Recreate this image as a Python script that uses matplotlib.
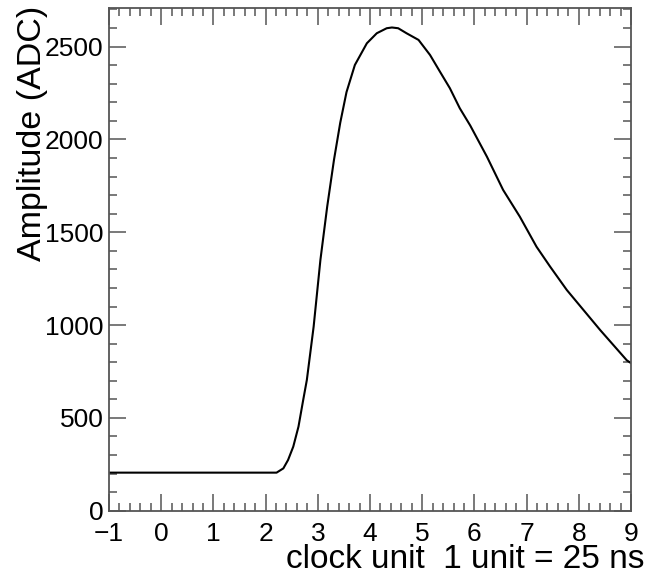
import matplotlib
matplotlib.use("Agg")
import matplotlib.pyplot as plt
from matplotlib.ticker import MultipleLocator

# pulse shape
clock = [-1.0, 2.21, 2.34, 2.43, 2.53, 2.63, 2.72, 2.79, 2.92, 3.05, 3.18, 3.31,
         3.43, 3.55, 3.71, 3.94, 4.13, 4.32, 4.42, 4.54, 4.70, 4.93, 5.15, 5.34,
         5.53, 5.72, 5.92, 6.24, 6.55, 6.87, 7.19, 7.45, 7.77, 8.09, 8.41, 8.92, 9.0]
amplitude = [205, 205, 228, 273, 345, 453, 596, 704, 991, 1351, 1638, 1890,
             2090, 2255, 2401, 2518, 2572, 2599, 2603, 2599, 2572, 2536, 2455, 2365,
             2276, 2168, 2075, 1907, 1728, 1584, 1422, 1315, 1189, 1081, 973, 810, 795]

x_ticks = [-1, 0, 1, 2, 3, 4, 5, 6, 7, 8, 9]
y_ticks = [0, 500, 1000, 1500, 2000, 2500]

plt.rcParams['font.family'] = ['Liberation Sans', 'DejaVu Sans']

fig = plt.figure(figsize=(6.47, 5.74), dpi=100)
ax = fig.add_axes([109 / 647, 1 - 510.7 / 574, 522 / 647, 502.7 / 574])

ax.plot(clock, amplitude, color='black', lw=1.5)

ax.set_xlim(-1, 9)
ax.set_ylim(0, 2708)
ax.set_xticks(x_ticks)
ax.set_yticks(y_ticks)
ax.xaxis.set_minor_locator(MultipleLocator(0.2))
ax.yaxis.set_minor_locator(MultipleLocator(100))

frame_col = '#555555'
for sp in ax.spines.values():
    sp.set_color(frame_col)
    sp.set_linewidth(1.3)

ax.tick_params(which='both', direction='in', top=True, right=True, color=frame_col,
               width=1.1, labelsize=19)
ax.tick_params(which='major', length=12)
ax.tick_params(which='minor', length=6)
ax.tick_params(axis='x', pad=8)
ax.tick_params(axis='y', pad=4)

fig.text(645 / 647, 1 - 568 / 574, 'clock unit  1 unit = 25 ns', fontsize=24,
         ha='right', va='baseline')
fig.text(41 / 647, 1 - 6 / 574, 'Amplitude (ADC)', fontsize=24.5, rotation=90,
         rotation_mode='anchor', ha='right', va='baseline')

fig.savefig('out.png', dpi=100)
